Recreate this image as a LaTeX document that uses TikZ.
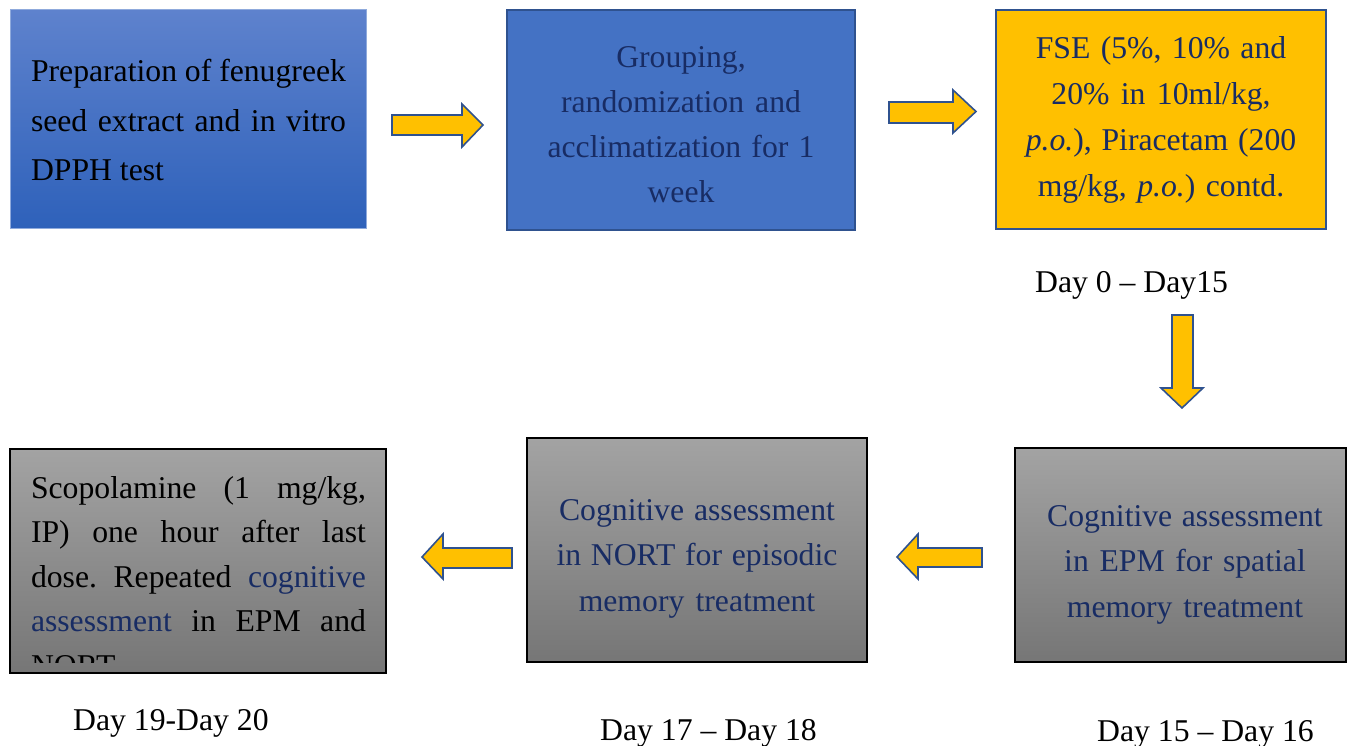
\documentclass[tikz,border=0pt]{standalone}
\usepackage{fontspec}
\setmainfont{Liberation Serif}
\definecolor{navytxt}{RGB}{24,44,100}
\definecolor{boxblue}{RGB}{68,114,196}
\definecolor{edgeblue}{RGB}{47,82,143}
\definecolor{gold}{RGB}{255,192,0}
\definecolor{topblue}{RGB}{94,130,205}
\definecolor{botblue}{RGB}{46,97,186}
\definecolor{lightedge}{RGB}{143,170,220}
\definecolor{graytop}{RGB}{163,163,163}
\definecolor{graybot}{RGB}{118,118,118}
\newcommand{\nsp}{\frenchspacing\spaceskip=0pt\xspaceskip=0pt\relax}
\begin{document}
\begin{tikzpicture}[x=1pt,y=-1pt,
  box/.style={rectangle, inner sep=0pt, outer sep=0pt, anchor=north west},
  bluegrad/.style={box, top color=topblue, bottom color=botblue, draw=lightedge, line width=1pt},
  bluesolid/.style={box, fill=boxblue, draw=edgeblue, line width=2pt},
  goldbox/.style={box, fill=gold, draw=edgeblue, line width=2pt},
  graybox/.style={box, top color=graytop, bottom color=graybot, draw=black, line width=1.3pt},
  txt/.style={inner sep=0pt, outer sep=0pt},
  blockarrow/.style={fill=gold, draw=edgeblue, line width=1.6pt, line join=miter},
  daylabel/.style={inner sep=0pt, anchor=base west, font=\fontsize{31.7}{38}\selectfont}
]
\useasboundingbox (0,0) rectangle (1347,746);

% boxes
\node[bluegrad, minimum width=356pt, minimum height=219pt] (b1) at (10,10) {};
\node[bluesolid, minimum width=348pt, minimum height=220pt] (b2) at (507,10) {};
\node[goldbox, minimum width=330pt, minimum height=219pt] (b3) at (996,10) {};
\node[graybox, minimum width=331pt, minimum height=214pt] (b4) at (1015,448) {};
\node[graybox, minimum width=340pt, minimum height=224pt] (b5) at (527,438) {};
\node[graybox, minimum width=376pt, minimum height=224pt] (b6) at (10,449) {};

% texts
\node[txt, anchor=base west, text width=315pt, align=left,
      font=\fontsize{31.7}{49.5}\selectfont] (t1) at (31,82)
  {\nsp\makebox[315pt][s]{Preparation of fenugreek}\\
   \makebox[315pt][s]{seed extract and in vitro}\\
   DPPH test};

\node[txt, anchor=base, text width=340pt, align=center, text=navytxt,
      font=\fontsize{31.7}{44.7}\selectfont] (t2) at (681,68)
  {\nsp Grouping,\\ randomization and\\ acclimatization for 1\\ week};

\node[txt, anchor=base, text width=330pt, align=center, text=navytxt,
      font=\fontsize{31.7}{46}\selectfont] (t3) at (1161,59)
  {\nsp FSE (5\%, 10\% and\\ 20\% in 10ml/kg,\\ \textit{p.o.}), Piracetam (200\\ mg/kg, \textit{p.o.}) contd.};

\node[txt, anchor=base, text width=330pt, align=center, text=navytxt,
      font=\fontsize{31.7}{45.5}\selectfont] (t4) at (1185,526)
  {\nsp Cognitive assessment\\ in EPM for spatial\\ memory treatment};

\node[txt, anchor=base, text width=340pt, align=center, text=navytxt,
      font=\fontsize{31.7}{45.5}\selectfont] (t5) at (697,520)
  {\nsp Cognitive assessment\\ in NORT for episodic\\ memory treatment};

\begin{scope}
\clip (10,449) rectangle (386,662);
\node[txt, anchor=base west, text width=335pt, align=left,
      font=\fontsize{31.7}{44.5}\selectfont] (t6) at (31,498)
  {\nsp\makebox[335pt][s]{Scopolamine (1 mg/kg,}\\
   \makebox[335pt][s]{IP) one hour after last}\\
   \makebox[335pt][s]{dose. Repeated \textcolor{navytxt}{cognitive}}\\
   \makebox[335pt][s]{\textcolor{navytxt}{assessment} in EPM and}\\
   NORT.};
\end{scope}

% day labels
\node[daylabel] (d1) at (1035,292) {Day 0 – Day15};
\node[daylabel] (d2) at (73,730) {Day 19-Day 20};
\node[daylabel] (d3) at (600,740) {Day 17 – Day 18};
\node[daylabel] (d4) at (1097,741) {Day 15 – Day 16};

% block arrows
\draw[blockarrow] (392,115) -- (462,115) -- (462,104) -- (483,125) -- (462,147) -- (462,135) -- (392,135) -- cycle;
\draw[blockarrow] (889,102) -- (953,102) -- (953,90) -- (976,111.5) -- (953,133) -- (953,123) -- (889,123) -- cycle;
\draw[blockarrow] (1172,315) -- (1193,315) -- (1193,388) -- (1203,388) -- (1182,408) -- (1161,388) -- (1172,388) -- cycle;
\draw[blockarrow] (512,548) -- (443,548) -- (443,534) -- (422,557) -- (443,579) -- (443,568) -- (512,568) -- cycle;
\draw[blockarrow] (982,548) -- (918,548) -- (918,534) -- (897,557) -- (918,579) -- (918,567) -- (982,567) -- cycle;
\end{tikzpicture}
\end{document}
